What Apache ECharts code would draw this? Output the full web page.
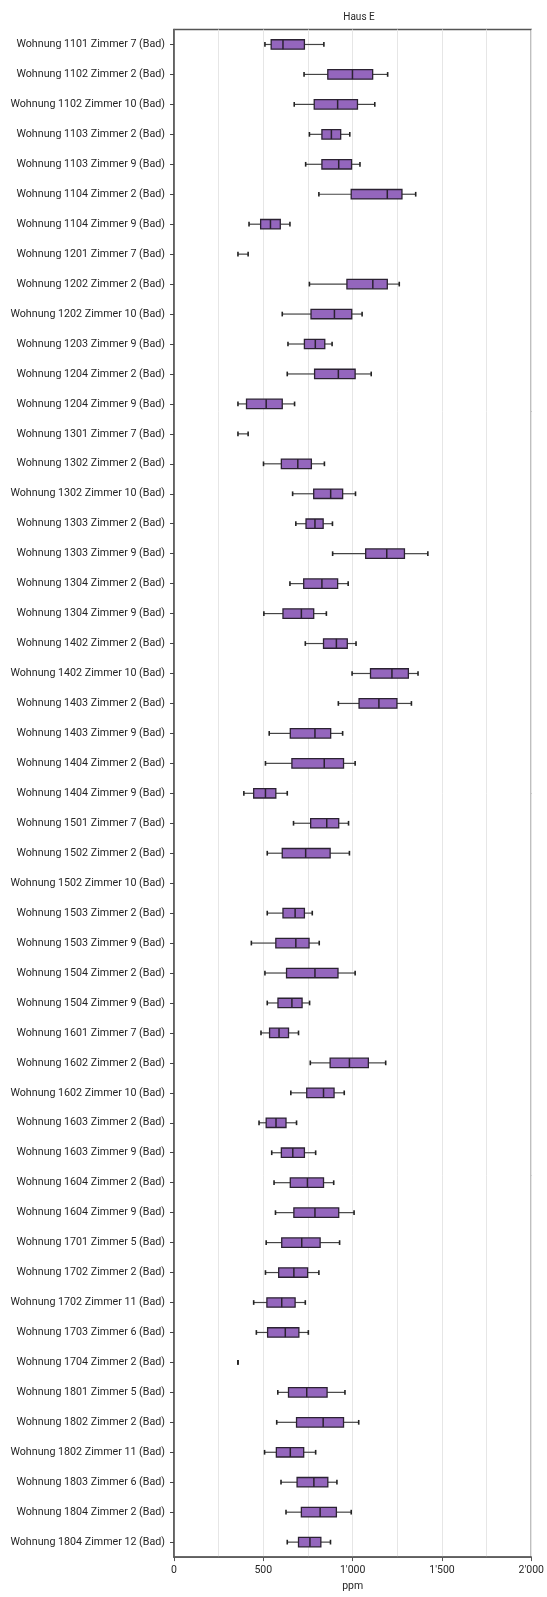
<!DOCTYPE html>
<html>
<head>
<meta charset="utf-8">
<title>Haus E</title>
<script src="https://cdn.jsdelivr.net/npm/echarts@6/dist/echarts.min.js"></script>
<style>
  html, body { margin: 0; padding: 0; background: #ffffff; }
  #chart { width: 547px; height: 1597px; }
</style>
</head>
<body>
<div id="chart"></div>
<script>
// Rooms (top to bottom)
const rooms = [
  'Wohnung 1101 Zimmer 7 (Bad)', 'Wohnung 1102 Zimmer 2 (Bad)', 'Wohnung 1102 Zimmer 10 (Bad)',
  'Wohnung 1103 Zimmer 2 (Bad)', 'Wohnung 1103 Zimmer 9 (Bad)', 'Wohnung 1104 Zimmer 2 (Bad)',
  'Wohnung 1104 Zimmer 9 (Bad)', 'Wohnung 1201 Zimmer 7 (Bad)', 'Wohnung 1202 Zimmer 2 (Bad)',
  'Wohnung 1202 Zimmer 10 (Bad)', 'Wohnung 1203 Zimmer 9 (Bad)', 'Wohnung 1204 Zimmer 2 (Bad)',
  'Wohnung 1204 Zimmer 9 (Bad)', 'Wohnung 1301 Zimmer 7 (Bad)', 'Wohnung 1302 Zimmer 2 (Bad)',
  'Wohnung 1302 Zimmer 10 (Bad)', 'Wohnung 1303 Zimmer 2 (Bad)', 'Wohnung 1303 Zimmer 9 (Bad)',
  'Wohnung 1304 Zimmer 2 (Bad)', 'Wohnung 1304 Zimmer 9 (Bad)', 'Wohnung 1402 Zimmer 2 (Bad)',
  'Wohnung 1402 Zimmer 10 (Bad)', 'Wohnung 1403 Zimmer 2 (Bad)', 'Wohnung 1403 Zimmer 9 (Bad)',
  'Wohnung 1404 Zimmer 2 (Bad)', 'Wohnung 1404 Zimmer 9 (Bad)', 'Wohnung 1501 Zimmer 7 (Bad)',
  'Wohnung 1502 Zimmer 2 (Bad)', 'Wohnung 1502 Zimmer 10 (Bad)', 'Wohnung 1503 Zimmer 2 (Bad)',
  'Wohnung 1503 Zimmer 9 (Bad)', 'Wohnung 1504 Zimmer 2 (Bad)', 'Wohnung 1504 Zimmer 9 (Bad)',
  'Wohnung 1601 Zimmer 7 (Bad)', 'Wohnung 1602 Zimmer 2 (Bad)', 'Wohnung 1602 Zimmer 10 (Bad)',
  'Wohnung 1603 Zimmer 2 (Bad)', 'Wohnung 1603 Zimmer 9 (Bad)', 'Wohnung 1604 Zimmer 2 (Bad)',
  'Wohnung 1604 Zimmer 9 (Bad)', 'Wohnung 1701 Zimmer 5 (Bad)', 'Wohnung 1702 Zimmer 2 (Bad)',
  'Wohnung 1702 Zimmer 11 (Bad)', 'Wohnung 1703 Zimmer 6 (Bad)', 'Wohnung 1704 Zimmer 2 (Bad)',
  'Wohnung 1801 Zimmer 5 (Bad)', 'Wohnung 1802 Zimmer 2 (Bad)', 'Wohnung 1802 Zimmer 11 (Bad)',
  'Wohnung 1803 Zimmer 6 (Bad)', 'Wohnung 1804 Zimmer 2 (Bad)', 'Wohnung 1804 Zimmer 12 (Bad)'
];

// CO2 statistics per room in ppm (null = no measurements)
const whiskerLow = [
  509, 728, 673, 758, 737, 811, 420, 358, 758, 606, 638, 634, 358, 358, 501, 664, 682,
  888, 649, 503, 735, 997, 920, 533, 512, 391, 669, 522, null, 522, 433, 509, 522,
  487, 763, 654, 476, 547, 560, 568, 516, 512, 446, 461, 358, 581, 575, 507, 599, 627, 634
];
const quartile1 = [
  544, 861, 785, 828, 828, 992, 485, 358, 968, 767, 730, 787, 406, 358, 601, 782, 739,
  1073, 726, 610, 837, 1100, 1036, 651, 660, 446, 765, 606, null, 610, 570, 630, 582,
  535, 874, 743, 516, 601, 651, 671, 603, 586, 520, 524, 358, 641, 686, 573, 689, 713, 697
];
const medians = [
  610, 999, 916, 881, 922, 1194, 540, 358, 1113, 898, 791, 920, 516, 358, 693, 877, 789,
  1191, 828, 713, 909, 1220, 1147, 789, 841, 512, 855, 737, null, 678, 682, 789, 660,
  588, 982, 837, 571, 665, 747, 789, 715, 671, 603, 623, 358, 743, 835, 651, 783, 818, 761
];
const quartile3 = [
  730, 1112, 1027, 933, 994, 1276, 595, 358, 1194, 995, 844, 1014, 606, 358, 769, 944, 835,
  1290, 916, 782, 970, 1312, 1248, 877, 949, 570, 922, 874, null, 730, 756, 918, 717,
  641, 1088, 896, 627, 730, 837, 922, 818, 748, 678, 699, 358, 857, 949, 726, 861, 909, 822
];
const whiskerHigh = [
  839, 1196, 1124, 984, 1041, 1353, 649, 415, 1261, 1053, 885, 1104, 675, 415, 842, 1016, 887,
  1421, 975, 853, 1019, 1366, 1329, 944, 1014, 634, 977, 982, null, 774, 813, 1014, 759,
  697, 1185, 953, 686, 793, 894, 1008, 927, 811, 735, 752, 358, 957, 1034, 793, 912, 992, 876
];

// x axis tick labels (Swiss thousands separator)
const tickValues = [0, 500, 1000, 1500, 2000];
const tickLabels = ['0', '500', "1'000", "1'500", "2'000"];

const FONT = 'Roboto';
const TEXT = '#262626';

// one row per room that has data: [index, low, q1, median, q3, high]
const boxData = [];
rooms.forEach((r, i) => {
  if (medians[i] == null) return;
  boxData.push([i, whiskerLow[i], quartile1[i], medians[i], quartile3[i], whiskerHigh[i]]);
});

function renderBox(params, api) {
  const cat = api.value(0);
  const p = [1, 2, 3, 4, 5].map(k => api.coord([api.value(k), cat]));
  const y = p[0][1];
  const band = api.size([0, 1])[1];
  const boxH = band * 0.315;
  const capH = boxH * 0.5;
  const xl = p[0][0], x1 = p[1][0], xm = p[2][0], x3 = p[3][0], xh = p[4][0];
  const whisker = { stroke: '#444444', lineWidth: 1.2 };
  const cap = { stroke: '#222222', lineWidth: 1.6 };
  const edge = '#2b2232';
  const kids = [
    { type: 'line', shape: { x1: xl, y1: y, x2: x1, y2: y }, style: whisker },
    { type: 'line', shape: { x1: x3, y1: y, x2: xh, y2: y }, style: whisker },
    { type: 'line', shape: { x1: xl, y1: y - capH / 2, x2: xl, y2: y + capH / 2 }, style: cap },
    { type: 'line', shape: { x1: xh, y1: y - capH / 2, x2: xh, y2: y + capH / 2 }, style: cap }
  ];
  // a box collapsed to one value is left out; only the whisker and caps remain
  if (x3 - x1 > 0.5) {
    kids.push({
      type: 'rect',
      shape: { x: x1, y: y - boxH / 2, width: x3 - x1, height: boxH },
      style: { fill: '#9466bd', stroke: edge, lineWidth: 1.3 }
    });
    kids.push({
      type: 'line',
      shape: { x1: xm, y1: y - boxH / 2, x2: xm, y2: y + boxH / 2 },
      style: { stroke: edge, lineWidth: 1.5 }
    });
  }
  return { type: 'group', children: kids };
}

const chart = echarts.init(document.getElementById('chart'), null, { renderer: 'canvas' });
chart.setOption({
  backgroundColor: '#ffffff',
  animation: false,
  title: {
    text: 'Haus E',
    left: 354,
    top: 7,
    textAlign: 'center',
    textStyle: { fontFamily: FONT, fontSize: 10, fontWeight: 'normal', color: TEXT }
  },
  grid: {
    left: 174, right: 11.5, top: 29.5, bottom: 34.5,
    show: true, borderColor: '#555555', borderWidth: 1.3, backgroundColor: 'transparent'
  },
  xAxis: {
    type: 'value',
    min: 0, max: 2000, interval: 500,
    name: 'ppm',
    nameLocation: 'middle',
    nameGap: 23,
    nameTextStyle: { fontFamily: FONT, fontSize: 10.5, color: TEXT },
    axisLine: { show: true, lineStyle: { color: '#555555', width: 1.6 } },
    axisTick: { show: true, length: 4, lineStyle: { color: '#555555', width: 1 } },
    axisLabel: {
      margin: 8,
      fontFamily: FONT, fontSize: 10.5, color: TEXT,
      formatter: v => tickLabels[tickValues.indexOf(v)]
    },
    splitLine: { show: true, lineStyle: { color: '#e6e6e6', width: 1 } },
    minorTick: { show: false, splitNumber: 2 },
    minorSplitLine: { show: true, lineStyle: { color: '#e6e6e6', width: 1 } }
  },
  yAxis: {
    type: 'category',
    data: rooms,
    inverse: true,
    axisLine: { show: true, lineStyle: { color: '#555555', width: 1.6 } },
    axisTick: { show: true, alignWithLabel: true, length: 4, lineStyle: { color: '#444444', width: 1 } },
    axisLabel: { margin: 9, fontFamily: FONT, fontSize: 10.7, color: TEXT },
    splitLine: { show: false }
  },
  series: [{
    type: 'custom',
    renderItem: renderBox,
    encode: { x: [1, 2, 3, 4, 5], y: 0 },
    data: boxData
  }]
});
</script>
</body>
</html>
